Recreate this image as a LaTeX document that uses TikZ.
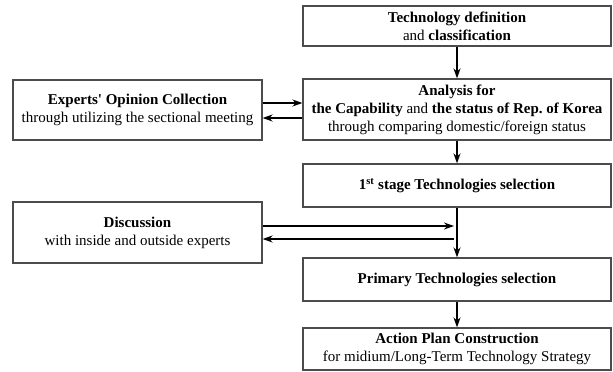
\documentclass[tikz,border=0pt]{standalone}
\usepackage{fontspec}
\setmainfont{Liberation Serif}
\usetikzlibrary{arrows.meta}
\frenchspacing
\begin{document}
\begin{tikzpicture}[x=1pt,y=-1pt,
  box/.style={draw=black!70,line width=1.2pt,inner sep=0pt,align=center,
    font=\fontsize{15}{18}\selectfont},
  arr/.style={line width=1.8pt,-{Stealth[length=10pt,width=7pt]}}]
\useasboundingbox (0,0) rectangle (613,372);
\node[box,minimum width=308pt,minimum height=40pt] (tech) at (457,26)
  {\textbf{Technology definition}\\and \textbf{classification}};
\node[box,minimum width=308pt,minimum height=61pt] (anal) at (457,109.5)
  {\textbf{Analysis for}\\\textbf{the Capability} and \textbf{the status of Rep.\ of Korea}\\through comparing domestic/foreign status};
\node[box,minimum width=308pt,minimum height=43pt] (first) at (457,185.5)
  {\textbf{1\textsuperscript{st} stage Technologies selection}};
\node[box,minimum width=308pt,minimum height=43pt] (prim) at (457,279.5)
  {\textbf{Primary Technologies selection}};
\node[box,minimum width=308pt,minimum height=42pt] (act) at (457,349)
  {\textbf{Action Plan Construction}\\for midium/Long-Term Technology Strategy};
\node[box,minimum width=249pt,minimum height=60pt] (exp) at (137.5,110)
  {\textbf{Experts\textquotesingle\ Opinion Collection}\\through utilizing the sectional meeting};
\node[box,minimum width=249pt,minimum height=61pt] (disc) at (137.5,232.5)
  {\textbf{Discussion}\\with inside and outside experts};
\coordinate (jr) at ([xshift=-3pt]first.south);
\draw[arr] (tech.south) -- (anal.north);
\draw[arr] (anal.south) -- (first.north);
\draw[arr] (first.south) -- (prim.north);
\draw[arr] (prim.south) -- (act.north);
\draw[arr] (exp.east |- 0,103) -- (anal.west |- 0,103);
\draw[arr] (anal.west |- 0,118) -- (exp.east |- 0,118);
\draw[arr] (disc.east |- 0,226) -- (jr |- 0,226);
\draw[arr] (jr |- 0,239) -- (disc.east |- 0,239);
\end{tikzpicture}
\end{document}
